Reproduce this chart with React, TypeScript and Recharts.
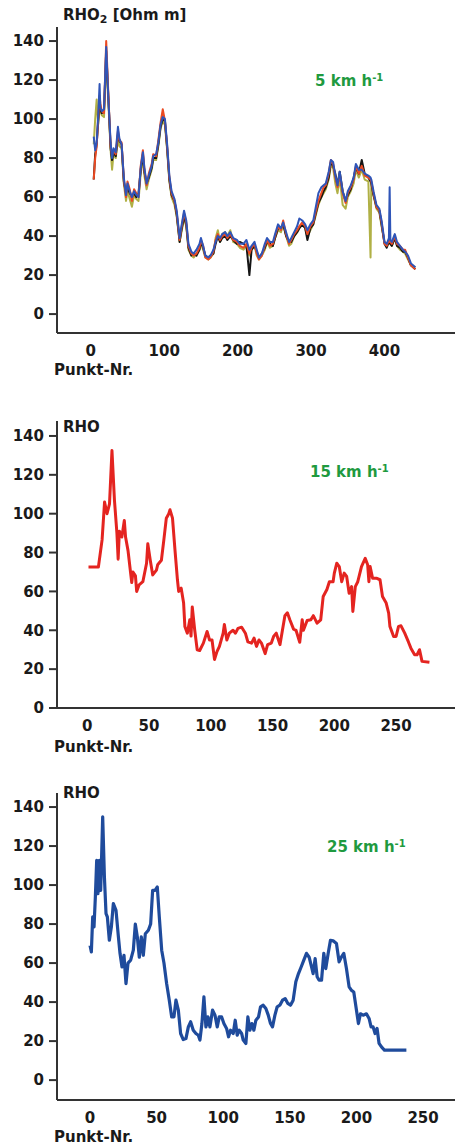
import { LineChart, Line, XAxis, YAxis } from 'recharts';

// 5 km/h run: shared point numbers, four overlapping repeat measurements
const punkt5 = [
  4, 6, 8, 10, 12, 13, 15, 18, 21, 24,
  27, 29, 31, 34, 37, 39, 42, 45, 48, 50,
  53, 56, 59, 62, 65, 68, 71, 73, 76, 79,
  83, 85, 89, 92, 95, 98, 101, 104, 107, 110,
  114, 117, 121, 123, 127, 130, 133, 137, 140, 144,
  148, 150, 153, 156, 160, 163, 167, 170, 173, 176,
  179, 183, 186, 190, 194, 199, 203, 208, 212, 216,
  219, 223, 226, 229, 233, 237, 240, 244, 248, 251,
  255, 259, 262, 266, 270, 273, 277, 281, 284, 288,
  292, 295, 299, 303, 306, 310, 314, 317, 320, 324,
  327, 330, 333, 336, 339, 343, 347, 350, 354, 358,
  361, 365, 369, 373, 378, 381, 382, 385, 389, 393,
  396, 400, 403, 406, 407, 408, 410, 414, 417, 421,
  425, 428, 432, 436, 442,
];

const rho5Olive = [
  87, 100, 110, 97, 108, 104, 102, 101, 130, 108,
  84, 74, 82, 80, 90, 86, 85, 67, 58, 63,
  59, 55, 61, 59, 58, 72, 80, 71, 64, 69,
  74, 79, 79, 86, 95, 99, 97, 84, 68, 60,
  56, 50, 37, 41, 49, 45, 33, 30, 29, 31,
  33, 36, 33, 29, 28, 29, 31, 39, 43, 37,
  41, 42, 40, 43, 37, 36, 34, 33, 35, 30,
  33, 35, 30, 28, 30, 33, 37, 34, 35, 39,
  43, 42, 46, 40, 35, 36, 40, 42, 44, 46,
  44, 40, 43, 46, 50, 56, 60, 62, 64, 69,
  76, 75, 67, 62, 70, 56, 54, 60, 63, 67,
  74, 70, 74, 69, 68, 29, 67, 61, 54, 52,
  45, 37, 35, 37, 36, 36, 35, 39, 35, 33,
  32, 31, 28, 25, 24,
];

const rho5Black = [
  69, 82, 87, 98, 110, 105, 103, 104, 135, 111,
  85, 79, 83, 81, 92, 89, 87, 68, 62, 65,
  62, 60, 62, 60, 62, 74, 82, 73, 67, 70,
  75, 80, 80, 87, 96, 100, 99, 85, 69, 61,
  58, 51, 37, 42, 50, 46, 34, 30, 31, 30,
  33, 37, 34, 30, 29, 30, 31, 36, 40, 37,
  39, 40, 38, 40, 38, 36, 37, 36, 35, 20,
  33, 35, 32, 29, 31, 34, 37, 36, 35, 39,
  44, 44, 46, 40, 37, 37, 40, 42, 44, 46,
  44, 38, 44, 46, 51, 57, 60, 63, 65, 70,
  78, 76, 72, 66, 73, 63, 58, 61, 64, 70,
  75, 72, 79, 72, 70, 68, 67, 61, 55, 53,
  46, 36, 34, 37, 37, 36, 35, 39, 35, 34,
  32, 32, 29, 25, 23,
];

const rho5Red = [
  69, 80, 86, 100, 112, 108, 104, 103, 140, 112,
  86, 81, 84, 82, 94, 89, 88, 69, 60, 68,
  64, 58, 64, 62, 60, 76, 84, 74, 66, 72,
  77, 82, 81, 89, 98, 105, 99, 86, 70, 62,
  58, 52, 38, 43, 52, 47, 35, 31, 30, 31,
  34, 38, 35, 29, 28, 29, 32, 38, 41, 38,
  40, 41, 39, 41, 38, 37, 35, 34, 36, 31,
  34, 36, 31, 28, 30, 35, 38, 35, 36, 40,
  45, 43, 48, 41, 36, 38, 41, 43, 45, 47,
  45, 41, 45, 47, 52, 58, 62, 65, 66, 72,
  79, 77, 70, 65, 72, 62, 57, 62, 65, 69,
  76, 72, 76, 71, 70, 69, 68, 62, 55, 53,
  47, 36, 35, 38, 37, 37, 36, 40, 36, 35,
  33, 33, 29, 25, 23,
];

const rho5Blue = [
  91, 84, 88, 101, 118, 106, 104, 105, 137, 110,
  88, 80, 85, 83, 96, 90, 87, 70, 61, 67,
  63, 60, 63, 61, 60, 75, 83, 75, 67, 71,
  76, 81, 82, 88, 97, 101, 100, 87, 71, 63,
  59, 53, 39, 44, 53, 48, 36, 32, 31, 33,
  36, 39, 35, 30, 29, 30, 33, 37, 40, 39,
  41, 42, 40, 42, 39, 38, 36, 36, 38, 33,
  35, 37, 33, 29, 31, 36, 39, 37, 37, 41,
  46, 44, 47, 42, 37, 39, 42, 45, 49, 48,
  46, 43, 46, 48, 54, 62, 65, 66, 67, 73,
  79, 78, 71, 66, 73, 63, 58, 63, 66, 70,
  77, 74, 74, 72, 71, 70, 69, 63, 56, 54,
  48, 37, 36, 39, 65, 38, 37, 41, 37, 35,
  33, 32, 30, 26, 24,
];

// 15 km/h run
const punkt15 = [
  1, 9, 12, 14, 16, 18, 20, 22, 24, 25,
  26, 28, 30, 31, 33, 35, 36, 37, 39, 40,
  42, 45, 48, 49, 51, 53, 56, 57, 60, 62,
  64, 66, 67, 69, 71, 73, 74, 76, 78, 79,
  81, 83, 84, 85, 87, 89, 91, 94, 97, 99,
  101, 103, 105, 107, 110, 111, 113, 115, 118, 120,
  122, 125, 128, 130, 133, 135, 137, 139, 141, 144,
  146, 149, 151, 153, 156, 158, 160, 162, 164, 167,
  169, 172, 174, 175, 178, 181, 183, 186, 189, 191,
  194, 196, 199, 200, 202, 204, 206, 208, 210, 212,
  214, 215, 217, 219, 222, 225, 227, 228, 229, 231,
  234, 237, 239, 242, 244, 245, 248, 250, 252, 254,
  257, 260, 262, 265, 267, 269, 271, 277,
];

const rho15 = [
  72.5, 72.5, 86.5, 106, 100, 105, 132.5, 107, 90, 76.6,
  91, 88, 96.5, 88, 81, 70, 64.6, 70, 68, 60,
  63.4, 65, 74.5, 84.5, 76, 68.5, 71, 73.7, 76, 86.5,
  97.7, 100, 102, 97.7, 81.4, 66, 60, 61.7, 54, 42,
  38.5, 45.4, 37, 52, 40, 30, 29.6, 33.4, 39.4, 35,
  35, 25, 29, 31.7, 38.5, 43, 35, 38.5, 40, 38.5,
  41, 41.6, 38.5, 34, 33.4, 36, 31.7, 35, 33.4, 28,
  32.6, 33.4, 37, 38.5, 32.6, 40, 47.5, 49, 45.4, 40.6,
  40, 33.8, 45.4, 40, 45, 45.4, 47.5, 43.7, 45.4, 57.4,
  61, 65, 65, 69.4, 74.5, 72.8, 65, 69.4, 67.7, 59,
  62.5, 49.7, 62.5, 65, 72.8, 77, 73.7, 65, 72.8, 66.8,
  66.8, 66, 57.4, 54, 48.8, 42, 36.8, 36.8, 42, 42.3,
  38.5, 34, 30.8, 27.4, 27.4, 30, 24, 23.5,
];

// 25 km/h run
const punkt25 = [
  0, 1, 2, 3, 4, 5, 6, 7, 8, 9.5,
  10.8, 12, 13, 14.5, 16, 17.5, 19.5, 21.3, 22.5, 24,
  25.5, 27, 28.5, 30.5, 32.5, 34, 35.5, 37, 38.5, 40,
  41.5, 43.8, 45.5, 47, 48.8, 50.5, 52, 53.8, 55.5, 57.5,
  59.5, 61.3, 63, 64.5, 66.3, 68, 70, 72, 73.8, 75.5,
  77.5, 79.5, 81.3, 82.5, 84, 85.5, 87, 88.5, 90, 92,
  93.8, 95.5, 97, 98.8, 100.5, 102.5, 104, 105.5, 107.5, 109,
  110.5, 112, 113.8, 115, 117, 118.5, 120, 121.5, 123, 124.5,
  126.5, 128, 130, 132, 133.8, 135.5, 137, 138.8, 140.5, 142.5,
  144.5, 146.5, 148.5, 150.5, 152.5, 154.5, 156.5, 158.5, 160.5, 162.5,
  164.5, 166.3, 167.5, 169, 170.5, 172, 173.8, 175.5, 177, 178.8,
  180.5, 182.5, 185, 187, 188.8, 190.5, 192.5, 194.5, 196.3, 198,
  200, 201.5, 203, 205, 207.5, 209.5, 211, 212.5, 214, 215.5,
  217, 218.8, 221, 237.5,
];

const rho25 = [
  69, 65.7, 83.7, 78.5, 94, 112.7, 95.6, 112.7, 97.3, 135,
  104, 85.4, 83.7, 71.7, 78.5, 90.5, 87, 73.4, 65, 58,
  64, 49.5, 60, 61.5, 66.6, 80, 73.4, 63, 73.4, 64,
  75, 76.8, 80, 97.3, 97.3, 99, 83.7, 66.6, 60, 49.5,
  41, 32.4, 32.4, 41, 35.9, 23.9, 20.8, 21.3, 27.3, 29.9,
  25.6, 23.9, 23, 20.5, 29, 42.7, 27.3, 32.4, 27.3, 35.9,
  33.3, 27.3, 32.4, 32.4, 29, 26.5, 22.2, 25.6, 23.9, 30.7,
  23, 25.6, 23.9, 20.5, 18.8, 32.4, 25.6, 29, 25.6, 30.7,
  32.4, 37.6, 38.4, 36.7, 33.3, 29, 27.3, 33.3, 37.6, 38.4,
  41, 41.8, 39.3, 38.4, 41, 50.4, 54.6, 58, 61.5, 65,
  63, 58, 54.6, 62.3, 53, 51.2, 51.2, 65, 57.2, 65,
  71.7, 71.4, 70, 60.6, 63.2, 65, 57.2, 47.8, 46, 45.2,
  35.9, 29, 34, 33.3, 34, 31.6, 27.3, 27.3, 23.9, 26.5,
  18.8, 17, 15.4, 15.4,
];

const yTicks = [0, 20, 40, 60, 80, 100, 120, 140];
const xTicks5 = [0, 100, 200, 300, 400];
const xTicks15 = [0, 50, 100, 150, 200, 250];
const xTicks25 = [0, 50, 100, 150, 200, 250];

const FONT = '"DejaVu Sans", "Open Sans", sans-serif';
const AXIS = '#333';
const GREEN = '#1f9a3f';

const toRows = (xs: number[], ys: number[]) => xs.map((x, i) => ({ x, v: ys[i] }));

const tickStyle = { fontSize: 15, fontWeight: 700, fill: '#1a1a1a', fontFamily: FONT };

interface PanelProps {
  top: number;
  height: number;
  xDomain: [number, number];
  yDomain: [number, number];
  xTicks: number[];
  series: { data: { x: number; v: number }[]; color: string; width: number }[];
}

function Panel({ top, height, xDomain, yDomain, xTicks, series }: PanelProps) {
  return (
    <div style={{ position: 'absolute', left: 0, top }}>
      <LineChart width={455} height={height} margin={{ top: 27, right: 0, bottom: 0, left: 0 }}>
        <XAxis
          type="number"
          dataKey="x"
          domain={xDomain}
          ticks={xTicks}
          allowDataOverflow
          height={47}
          tickLine={false}
          tickSize={8}
          tickMargin={4}
          stroke={AXIS}
          strokeWidth={2}
          tick={tickStyle}
          interval={0}
        />
        <YAxis
          type="number"
          domain={yDomain}
          ticks={yTicks}
          allowDataOverflow
          width={57}
          tickSize={8}
          tickMargin={5}
          stroke={AXIS}
          strokeWidth={2}
          tick={tickStyle}
          interval={0}
        />
        {series.map((s, i) => (
          <Line
            key={i}
            data={s.data}
            dataKey="v"
            type="linear"
            stroke={s.color}
            strokeWidth={s.width}
            dot={false}
            isAnimationActive={false}
            strokeLinejoin="round"
          />
        ))}
      </LineChart>
    </div>
  );
}

const label = (left: number, top: number, text: React.ReactNode, color = '#1a1a1a') => (
  <div
    style={{
      position: 'absolute',
      left,
      top,
      fontFamily: FONT,
      fontWeight: 700,
      fontSize: 15,
      lineHeight: '16px',
      color,
      whiteSpace: 'nowrap',
    }}
  >
    {text}
  </div>
);

const speed = (v: string) => (
  <span>
    {v} km h<sup style={{ fontSize: 10, verticalAlign: 0, position: 'relative', top: -5 }}>-1</sup>
  </span>
);

export default function App() {
  return (
    <div
      style={{
        position: 'fixed',
        left: 0,
        top: 0,
        width: 455,
        height: 1146,
        overflow: 'hidden',
        background: '#fff',
      }}
    >
      <Panel
        top={0}
        height={380}
        xDomain={[-46, 496]}
        yDomain={[-9.7, 147.2]}
        xTicks={xTicks5}
        series={[
          { data: toRows(punkt5, rho5Olive), color: '#b0b045', width: 2 },
          { data: toRows(punkt5, rho5Black), color: '#151515', width: 2 },
          { data: toRows(punkt5, rho5Red), color: '#ea4a22', width: 2 },
          { data: toRows(punkt5, rho5Blue), color: '#2f55b8', width: 2 },
        ]}
      />
      <Panel
        top={394}
        height={361}
        xDomain={[-24.5, 297.7]}
        yDomain={[0, 147.7]}
        xTicks={xTicks15}
        series={[{ data: toRows(punkt15, rho15), color: '#e42420', width: 3 }]}
      />
      <Panel
        top={766}
        height={381}
        xDomain={[-24.8, 274]}
        yDomain={[-10.2, 147.2]}
        xTicks={xTicks25}
        series={[{ data: toRows(punkt25, rho25), color: '#1f4b9c', width: 3.2 }]}
      />

      {label(63, 7, <span>RHO<sub style={{ fontSize: 11, verticalAlign: 0, position: 'relative', top: 3 }}>2</sub> [Ohm m]</span>)}
      {label(315, 73, speed('5'), GREEN)}
      {label(54, 362, 'Punkt-Nr.')}

      {label(63, 419, 'RHO')}
      {label(310, 464, speed('15'), GREEN)}
      {label(54, 739, 'Punkt-Nr.')}

      {label(63, 785, 'RHO')}
      {label(327, 839, speed('25'), GREEN)}
      {label(54, 1129, 'Punkt-Nr.')}
    </div>
  );
}
